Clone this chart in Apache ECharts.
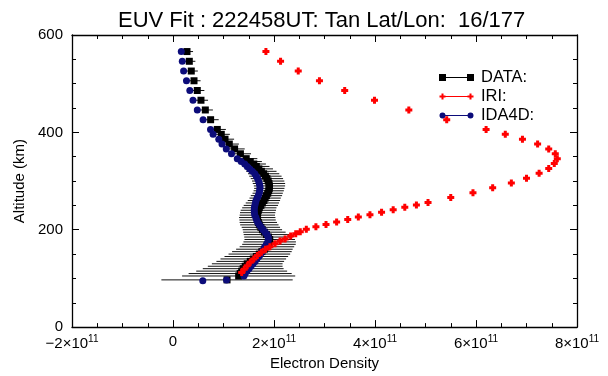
<!DOCTYPE html>
<html>
<head>
<meta charset="utf-8">
<script src="https://cdn.jsdelivr.net/npm/echarts@6/dist/echarts.min.js"></script>
<style>html,body{margin:0;padding:0;background:#fff}#c{width:608px;height:376px}</style>
</head>
<body>
<div id="c"></div>
<script>
// Electron density in units of 1e11, altitude in km
const dataAlt = [566,546,526,506,486,466,446,426,406,396,386,376,366,356,346,
  340,335,330,325,320,315,310,305,300,295,290,285,280,275,270,265,260,255,250,245,240,235,230,225,220,215,210,205,200,195,190,185,180,175,170,165,160,155,150,145,140,135,130,125,120,115,110,105,97];
const dataVal = [0.277,0.323,0.362,0.416,0.481,0.554,0.640,0.745,0.877,0.956,1.030,1.115,1.220,1.335,1.450,
  1.53,1.60,1.65,1.70,1.75,1.795,1.83,1.86,1.885,1.90,1.91,1.907,1.895,1.875,1.85,1.825,1.80,1.77,1.74,1.71,1.69,1.677,1.67,1.668,1.675,1.69,1.71,1.74,1.77,1.81,1.85,1.89,1.915,1.915,1.90,1.86,1.81,1.76,1.71,1.65,1.59,1.53,1.47,1.43,1.39,1.36,1.33,1.30,1.07];
const dataErr = [0.12,0.12,0.13,0.13,0.14,0.14,0.15,0.16,0.17,0.17,0.18,0.19,0.20,0.21,0.22,
  0.23,0.24,0.26,0.28,0.30,0.31,0.32,0.32,0.32,0.32,0.31,0.30,0.30,0.30,0.31,0.31,0.32,0.33,0.34,0.34,0.35,0.35,0.35,0.36,0.36,0.37,0.38,0.38,0.39,0.42,0.45,0.48,0.50,0.52,0.53,0.54,0.56,0.59,0.61,0.63,0.65,0.67,0.70,0.74,0.80,0.90,1.02,1.12,1.30];
const idaAlt = [566,546,526,506,486,466,446,426,406,396,386,376,366,356,346,
  340,335,330,325,320,315,310,305,300,295,290,285,280,275,270,265,260,255,250,245,240,235,230,225,220,215,210,205,200,195,190,185,180,175,170,165,160,155,150,145,140,135,130,125,120,115,110,105,97,95];
const idaVal = [0.164,0.184,0.210,0.267,0.333,0.396,0.481,0.596,0.743,0.794,0.907,0.970,1.055,1.158,1.273,
  1.35,1.42,1.47,1.52,1.57,1.62,1.65,1.675,1.695,1.71,1.72,1.723,1.715,1.705,1.69,1.665,1.645,1.632,1.62,1.612,1.608,1.612,1.62,1.64,1.655,1.68,1.71,1.745,1.785,1.825,1.86,1.885,1.89,1.875,1.85,1.82,1.795,1.765,1.735,1.70,1.66,1.625,1.585,1.545,1.505,1.465,1.43,1.405,1.06,0.59];
const iriAlt = [566,546,526,506,486,466,446,426,406,396,386,376,366,356,346,336,326,316,306,296,286,276,266,256,
  251,246,241,236,231,226,221,216,211,206,201,196,192,187,181,177,171,165,160,154,147,140,133,126,119,112];
const iriVal = [1.84,2.13,2.48,2.90,3.40,3.99,4.67,5.42,6.20,6.58,6.92,7.22,7.44,7.57,7.61,7.55,7.44,7.25,7.00,6.70,6.33,5.94,5.50,5.05,
  4.82,4.59,4.36,4.13,3.90,3.67,3.46,3.24,3.03,2.83,2.64,2.52,2.43,2.33,2.22,2.12,2.02,1.92,1.83,1.75,1.67,1.60,1.53,1.47,1.41,1.36];
const xTicks = [-2,0,2,4,6,8];
const yTicks = [0,200,400,600];
const titleText = 'EUV Fit : 222458UT: Tan Lat/Lon:  16/177';
const seriesNames = ['DATA:','IRI:','IDA4D:'];

const F = '"Liberation Sans", Arial, Helvetica, sans-serif';
const chart = echarts.init(document.getElementById('c'), null, {renderer:'canvas'});
const axLine = {show:true, onZero:false, lineStyle:{color:'#000', width:1.3}};
const tick = {show:true, inside:true, length:7, lineStyle:{color:'#000', width:1}};
const minor = {show:true, splitNumber:4, length:4, lineStyle:{color:'#000', width:1}};
const xFmt = v => v === 0 ? '{a|0}' : '{a|' + (v < 0 ? '\u2212' + (-v) : v) + '\u00d710}{s|11}';
const rich = {a:{fontSize:15, color:'#000', fontFamily:F}, s:{fontSize:10, color:'#000', fontFamily:F, padding:[0,0,9,0]}};

const plusPath = 'path://M2,0H5V2H7V5H5V7H2V5H0V2H2Z';
const iconData = 'path://M0,0.5H7V7.5H0Z M28,0.5H35V7.5H28Z M7,3.5H28V4.5H7Z M0,0H0.01V8H0Z';
const iconIri = 'path://M2.5,1H4.5V3H6.5V5H4.5V7H2.5V5H0.5V3H2.5Z M30.5,1H32.5V3H34.5V5H32.5V7H30.5V5H28.5V3H30.5Z M5,3.6H30V4.4H5Z M0,0H0.01V8H0Z M35,0H34.99V8H35Z';
const iconIda = 'path://M0.5,4A3,3,0,1,1,6.5,4A3,3,0,1,1,0.5,4Z M28.5,4A3,3,0,1,1,34.5,4A3,3,0,1,1,28.5,4Z M6,3.5H29V4.5H6Z M0,0H0.01V8H0Z M35,0H34.99V8H35Z';

chart.setOption({
  animation:false,
  backgroundColor:'#fff',
  title:{text:titleText, left:113, top:5, textStyle:{fontSize:22, fontWeight:'normal', color:'#000', fontFamily:F}},
  legend:{
    orient:'vertical', left:434, top:63, itemWidth:35, itemHeight:8, itemGap:0, selectedMode:false,
    textStyle:{fontSize:16.5, lineHeight:19, color:'#000', fontFamily:F, padding:[0,0,0,2]},
    data:[{name:seriesNames[0], icon:iconData},{name:seriesNames[1], icon:iconIri},{name:seriesNames[2], icon:iconIda}]
  },
  grid:{left:72, right:31, top:35, bottom:48},
  xAxis:[
    {type:'value', min:xTicks[0], max:xTicks[xTicks.length-1], interval:2, position:'bottom',
     axisLine:axLine, axisTick:tick, minorTick:minor, splitLine:{show:false}, minorSplitLine:{show:false},
     axisLabel:{formatter:xFmt, rich:rich, margin:7},
     name:'Electron Density', nameLocation:'middle', nameGap:27,
     nameTextStyle:{fontSize:15, color:'#000', fontFamily:F}},
    {type:'value', min:xTicks[0], max:xTicks[xTicks.length-1], interval:2, position:'top',
     axisLine:axLine, axisTick:tick, minorTick:minor, splitLine:{show:false}, axisLabel:{show:false}}
  ],
  yAxis:[
    {type:'value', min:yTicks[0], max:yTicks[yTicks.length-1], interval:200, position:'left',
     axisLine:axLine, axisTick:tick, minorTick:minor, splitLine:{show:false},
     axisLabel:{fontSize:15, color:'#000', fontFamily:F, margin:9},
     name:'Altitude (km)', nameLocation:'middle', nameGap:44,
     nameTextStyle:{fontSize:15, color:'#000', fontFamily:F}},
    {type:'value', min:yTicks[0], max:yTicks[yTicks.length-1], interval:200, position:'right',
     axisLine:axLine, axisTick:tick, minorTick:minor, splitLine:{show:false}, axisLabel:{show:false}}
  ],
  series:[
    {type:'custom', name:'err', silent:true, z:1,
     data:dataVal.map((v,i)=>[v, dataAlt[i], dataErr[i]]),
     encode:{x:0, y:1},
     renderItem:(params, api)=>{
       const x = api.value(0), y = api.value(1), e = api.value(2);
       const p1 = api.coord([x - e, y]), p2 = api.coord([x + e, y]);
       return {type:'line', shape:{x1:p1[0], y1:p1[1], x2:p2[0], y2:p2[1]}, style:{stroke:'#111', lineWidth:1}};
     }},
    {type:'scatter', name:seriesNames[0], z:2, symbol:'rect', symbolSize:7, itemStyle:{color:'#000', opacity:1},
     data:dataVal.map((v,i)=>[v, dataAlt[i]])},
    {type:'scatter', name:seriesNames[2], z:3, symbol:'circle', symbolSize:7, itemStyle:{color:'#0c0c7a', opacity:1},
     data:idaVal.map((v,i)=>[v, idaAlt[i]])},
    {type:'scatter', name:seriesNames[1], z:4, symbol:plusPath, symbolSize:7, itemStyle:{color:'#ff0000', opacity:1},
     data:iriVal.map((v,i)=>[v, iriAlt[i]])}
  ]
});
</script>
</body>
</html>
